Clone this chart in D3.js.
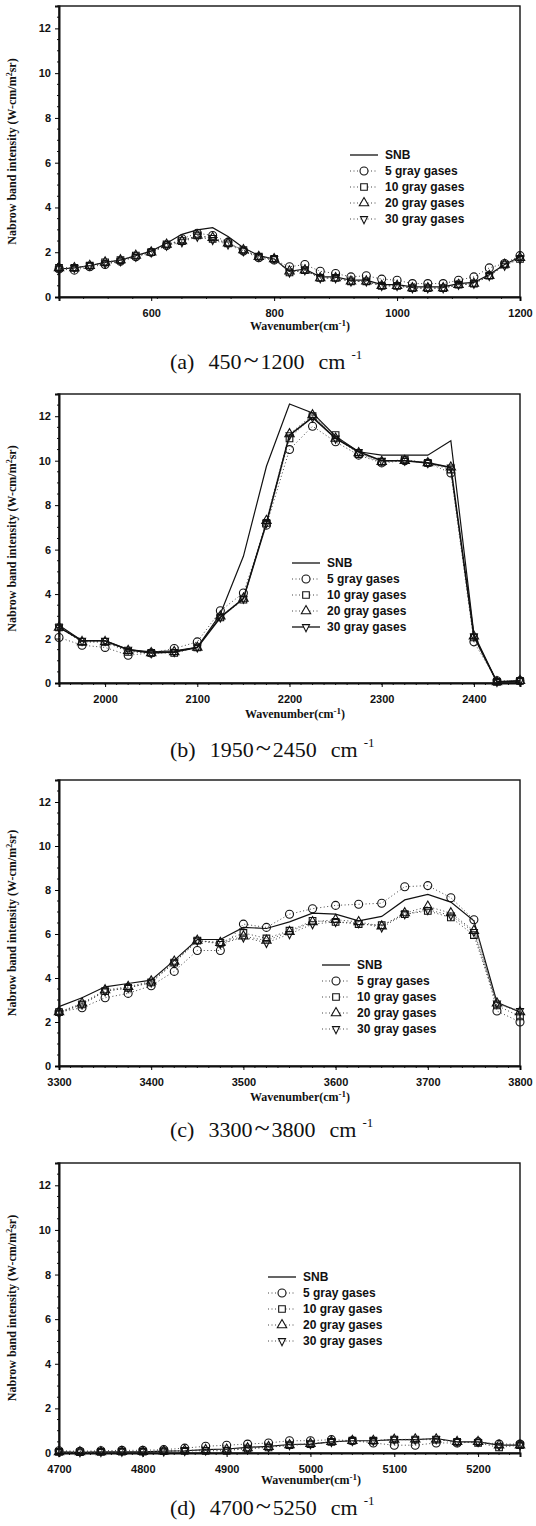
<!DOCTYPE html>
<html>
<head>
<meta charset="utf-8">
<script src="https://cdn.jsdelivr.net/npm/d3@7"></script>
<style>
    body { margin: 0; background: #fff; }
    svg { display: block; }
    .tick-label { font-family: "Liberation Sans", Arial, sans-serif; font-size: 11px; font-weight: bold; fill: #111; }
    .axis-title { font-family: "Liberation Serif", "Times New Roman", serif; font-size: 12px; font-weight: bold; fill: #111; }
    .legend-text { font-family: "Liberation Sans", Arial, sans-serif; font-size: 12px; font-weight: bold; fill: #111; }
    .caption { font-family: "Liberation Serif", "DejaVu Serif", serif; font-size: 22px; fill: #111; }
</style>
</head>
<body>
<svg id="chart" width="536" height="1526"></svg>
<script>
// series names
const seriesNames = ['SNB', '5 gray gases', '10 gray gases', '20 gray gases', '30 gray gases'];

// (a) 450 ~ 1200
const wnA = [450, 475, 500, 525, 550, 575, 600, 625, 650, 675, 700, 725, 750, 775, 800, 825, 850, 875, 900, 925, 950, 975, 1000, 1025, 1050, 1075, 1100, 1125, 1150, 1175, 1200];
const snbA = [1.25, 1.3, 1.4, 1.55, 1.65, 1.85, 2.05, 2.4, 2.8, 3.0, 3.1, 2.7, 2.2, 1.85, 1.7, 1.15, 1.25, 0.9, 0.9, 0.75, 0.75, 0.55, 0.55, 0.45, 0.45, 0.45, 0.6, 0.65, 1.0, 1.45, 1.8];
const g5A = [1.25, 1.2, 1.35, 1.45, 1.6, 1.8, 2.0, 2.3, 2.6, 2.85, 2.75, 2.45, 2.05, 1.75, 1.65, 1.35, 1.45, 1.15, 1.05, 0.9, 0.95, 0.8, 0.75, 0.6, 0.6, 0.6, 0.75, 0.9, 1.3, 1.5, 1.85];
const g10A = [1.3, 1.3, 1.4, 1.55, 1.65, 1.85, 2.0, 2.35, 2.5, 2.75, 2.6, 2.4, 2.1, 1.8, 1.7, 1.1, 1.2, 0.85, 0.85, 0.7, 0.7, 0.5, 0.5, 0.4, 0.4, 0.4, 0.55, 0.6, 0.95, 1.45, 1.7];
const g20A = [1.3, 1.3, 1.4, 1.55, 1.65, 1.85, 2.0, 2.35, 2.5, 2.75, 2.65, 2.4, 2.1, 1.8, 1.7, 1.15, 1.2, 0.85, 0.85, 0.7, 0.7, 0.5, 0.5, 0.4, 0.4, 0.4, 0.55, 0.6, 0.95, 1.45, 1.75];
const g30A = [1.25, 1.3, 1.4, 1.5, 1.6, 1.8, 2.0, 2.3, 2.45, 2.7, 2.55, 2.35, 2.05, 1.8, 1.7, 1.1, 1.2, 0.85, 0.85, 0.7, 0.7, 0.5, 0.5, 0.4, 0.4, 0.4, 0.55, 0.6, 0.95, 1.4, 1.7];
const xTicksA = [600, 800, 1000, 1200];

// (b) 1950 ~ 2450
const wnB = [1950, 1975, 2000, 2025, 2050, 2075, 2100, 2125, 2150, 2175, 2200, 2225, 2250, 2275, 2300, 2325, 2350, 2375, 2400, 2425, 2450];
const snbB = [2.6, 1.9, 1.9, 1.5, 1.4, 1.45, 1.6, 3.1, 5.7, 9.75, 12.55, 12.15, 11.1, 10.4, 10.25, 10.25, 10.25, 10.9, 2.2, 0.05, 0.05];
const g5B = [2.05, 1.7, 1.6, 1.25, 1.35, 1.55, 1.85, 3.25, 4.05, 7.1, 10.5, 11.55, 10.85, 10.25, 9.9, 10.0, 9.9, 9.45, 1.85, 0.1, 0.1];
const g10B = [2.5, 1.85, 1.85, 1.4, 1.35, 1.35, 1.6, 2.95, 3.75, 7.2, 11.0, 12.0, 11.15, 10.3, 9.95, 10.05, 9.9, 9.6, 2.05, 0.05, 0.1];
const g20B = [2.5, 1.85, 1.85, 1.45, 1.35, 1.4, 1.6, 3.0, 3.8, 7.3, 11.2, 12.05, 11.0, 10.35, 9.95, 10.0, 9.9, 9.7, 2.1, 0.05, 0.1];
const g30B = [2.5, 1.9, 1.9, 1.5, 1.35, 1.4, 1.6, 2.95, 3.8, 7.2, 11.15, 11.95, 11.0, 10.4, 10.0, 10.0, 9.9, 9.7, 2.1, 0.05, 0.1];
const xTicksB = [2000, 2100, 2200, 2300, 2400];

// (c) 3300 ~ 3800
const wnC = [3300, 3325, 3350, 3375, 3400, 3425, 3450, 3475, 3500, 3525, 3550, 3575, 3600, 3625, 3650, 3675, 3700, 3725, 3750, 3775, 3800];
const snbC = [2.7, 3.1, 3.6, 3.75, 3.9, 4.8, 5.75, 5.75, 6.3, 6.25, 6.55, 6.95, 6.9, 6.6, 6.8, 7.55, 7.8, 7.45, 6.6, 2.9, 2.45];
const g5C = [2.45, 2.65, 3.1, 3.3, 3.65, 4.3, 5.25, 5.25, 6.45, 6.3, 6.9, 7.15, 7.3, 7.35, 7.4, 8.15, 8.2, 7.65, 6.65, 2.5, 2.0];
const g10C = [2.45, 2.8, 3.4, 3.55, 3.8, 4.7, 5.7, 5.6, 6.05, 5.8, 6.15, 6.6, 6.55, 6.45, 6.4, 6.9, 7.05, 6.75, 5.95, 2.75, 2.25];
const g20C = [2.45, 2.85, 3.45, 3.6, 3.85, 4.75, 5.7, 5.6, 5.9, 5.7, 6.1, 6.55, 6.65, 6.55, 6.35, 6.95, 7.25, 6.95, 6.15, 2.85, 2.45];
const g30C = [2.4, 2.8, 3.4, 3.55, 3.8, 4.7, 5.7, 5.55, 5.85, 5.6, 6.0, 6.45, 6.55, 6.5, 6.3, 6.9, 7.1, 6.85, 6.1, 2.85, 2.5];
const xTicksC = [3300, 3400, 3500, 3600, 3700, 3800];

// (d) 4700 ~ 5250
const wnD = [4700, 4725, 4750, 4775, 4800, 4825, 4850, 4875, 4900, 4925, 4950, 4975, 5000, 5025, 5050, 5075, 5100, 5125, 5150, 5175, 5200, 5225, 5250];
const snbD = [0.05, 0.03, 0.05, 0.05, 0.05, 0.08, 0.1, 0.15, 0.18, 0.25, 0.3, 0.38, 0.4, 0.5, 0.55, 0.55, 0.6, 0.6, 0.65, 0.5, 0.5, 0.35, 0.35];
const g5D = [0.1, 0.08, 0.1, 0.12, 0.12, 0.15, 0.22, 0.3, 0.35, 0.4, 0.45, 0.55, 0.55, 0.6, 0.55, 0.45, 0.35, 0.35, 0.45, 0.45, 0.5, 0.4, 0.4];
const g10D = [0.05, 0.04, 0.05, 0.06, 0.06, 0.08, 0.1, 0.1, 0.1, 0.2, 0.25, 0.35, 0.4, 0.5, 0.55, 0.55, 0.6, 0.6, 0.6, 0.5, 0.45, 0.25, 0.35];
const g20D = [0.05, 0.04, 0.05, 0.06, 0.06, 0.08, 0.12, 0.14, 0.16, 0.22, 0.28, 0.36, 0.42, 0.5, 0.55, 0.55, 0.6, 0.62, 0.62, 0.5, 0.5, 0.35, 0.35];
const g30D = [0.05, 0.04, 0.05, 0.06, 0.06, 0.08, 0.1, 0.12, 0.15, 0.2, 0.26, 0.35, 0.4, 0.5, 0.55, 0.55, 0.6, 0.6, 0.62, 0.5, 0.5, 0.33, 0.35];
const xTicksD = [4700, 4800, 4900, 5000, 5100, 5200];

const yTicks = [0, 2, 4, 6, 8, 10, 12];

const LEFT = 59;
const RIGHT = 520;

const panels = [
    { tag: '(a)', range: ['450', '1200'], wn: wnA, series: [snbA, g5A, g10A, g20A, g30A], xTicks: xTicksA, minorStep: 40,
      top: 6, bottom: 297, legend: [350, 155], xTitle: [300, 330], caption: 369, solid30: false },
    { tag: '(b)', range: ['1950', '2450'], wn: wnB, series: [snbB, g5B, g10B, g20B, g30B], xTicks: xTicksB, minorStep: 12.5,
      top: 394, bottom: 683, legend: [292, 563], xTitle: [295, 718], caption: 757, solid30: true },
    { tag: '(c)', range: ['3300', '3800'], wn: wnC, series: [snbC, g5C, g10C, g20C, g30C], xTicks: xTicksC, minorStep: 12.5,
      top: 780, bottom: 1066, legend: [322, 965], xTitle: [300, 1101], caption: 1137, solid30: false },
    { tag: '(d)', range: ['4700', '5250'], wn: wnD, series: [snbD, g5D, g10D, g20D, g30D], xTicks: xTicksD, minorStep: 12.5,
      top: 1163, bottom: 1453, legend: [268, 1277], xTitle: [311, 1484], caption: 1515, solid30: false }
];

const triDown = {
    draw: (ctx, size) => {
        const h = Math.sqrt(size * 1.3);
        ctx.moveTo(-h / 2, -h / 3);
        ctx.lineTo(h / 2, -h / 3);
        ctx.lineTo(0, h * 2 / 3);
        ctx.closePath();
    }
};
const symbols = [null, d3.symbolCircle, d3.symbolSquare, d3.symbolTriangle, triDown];
const symbolSizes = [0, 50, 44, 38, 38];

const svg = d3.select('#chart');

drawPanel = (p) => {
    const g = svg.append('g');
    const x = d3.scaleLinear().domain([p.wn[0], p.wn[p.wn.length - 1]]).range([LEFT, RIGHT]);
    const y = d3.scaleLinear().domain([0, 13]).range([p.bottom, p.top]);

    // frame
    g.append('rect')
        .attr('x', LEFT).attr('y', p.top)
        .attr('width', RIGHT - LEFT).attr('height', p.bottom - p.top)
        .attr('fill', 'none').attr('stroke', '#111').attr('stroke-width', 1.4);

    // y axis
    const yAxis = d3.axisLeft(y).tickValues(yTicks).tickSize(4).tickPadding(4);
    const ya = g.append('g').attr('transform', `translate(${LEFT},0)`).call(yAxis);
    ya.select('.domain').attr('stroke-width', 2).attr('stroke', '#111');
    ya.selectAll('.tick text').attr('class', 'tick-label').attr('fill', null);
    const yMinor = d3.range(0, 13.01, 0.5).filter(v => v % 2 !== 0);
    g.append('g').selectAll('line').data(yMinor).enter().append('line')
        .attr('x1', LEFT - 2).attr('x2', LEFT)
        .attr('y1', d => y(d)).attr('y2', d => y(d))
        .attr('stroke', '#111');

    // x axis
    const xAxis = d3.axisBottom(x).tickValues(p.xTicks).tickSize(4).tickPadding(8).tickFormat(d3.format('d'));
    const xa = g.append('g').attr('transform', `translate(0,${p.bottom})`).call(xAxis);
    xa.select('.domain').attr('stroke-width', 2).attr('stroke', '#111');
    xa.selectAll('.tick text').attr('class', 'tick-label').attr('fill', null);
    const xMinor = d3.range(x.domain()[0], x.domain()[1], p.minorStep);
    g.append('g').selectAll('line').data(xMinor).enter().append('line')
        .attr('x1', d => x(d)).attr('x2', d => x(d))
        .attr('y1', p.bottom).attr('y2', p.bottom + 2)
        .attr('stroke', '#111');

    // y title
    const yt = g.append('text')
        .attr('class', 'axis-title')
        .attr('text-anchor', 'middle')
        .attr('transform', `translate(16,${(p.top + p.bottom) / 2}) rotate(-90)`);
    yt.append('tspan').text('Nabrow band intensity (W-cm/m');
    yt.append('tspan').attr('dy', -4).attr('font-size', 8).text('2');
    yt.append('tspan').attr('dy', 4).text('sr)');

    // x title
    const xt = g.append('text')
        .attr('class', 'axis-title')
        .attr('text-anchor', 'middle')
        .attr('x', p.xTitle[0]).attr('y', p.xTitle[1]);
    xt.append('tspan').text('Wavenumber(cm');
    xt.append('tspan').attr('dy', -4).attr('font-size', 9).text('-1');
    xt.append('tspan').attr('dy', 4).text(')');

    // series
    p.series.forEach((vals, si) => {
        const pts = p.wn.map((w, i) => [w, vals[i]]);
        const line = d3.line().x(d => x(d[0])).y(d => y(d[1]));
        const solid = si === 0 || (si === 4 && p.solid30);
        g.append('path')
            .attr('d', line(pts))
            .attr('fill', 'none')
            .attr('stroke', solid ? '#111' : '#444')
            .attr('stroke-width', solid ? (si === 0 ? 1.2 : 1.6) : 1)
            .attr('stroke-dasharray', solid ? null : '1,2.5');
        if (si > 0) {
            const sym = d3.symbol().type(symbols[si]).size(symbolSizes[si]);
            g.append('g').selectAll('path').data(pts).enter().append('path')
                .attr('d', sym)
                .attr('transform', d => `translate(${x(d[0])},${y(d[1])})`)
                .attr('fill', 'none')
                .attr('stroke', '#111')
                .attr('stroke-width', 1.1);
        }
    });

    // legend
    const [lx, ly] = p.legend;
    seriesNames.forEach((name, si) => {
        const ry = ly + si * 16;
        const solid = si === 0 || (si === 4 && p.solid30);
        g.append('line')
            .attr('x1', lx).attr('x2', lx + 28)
            .attr('y1', ry).attr('y2', ry)
            .attr('stroke', solid ? '#111' : '#444')
            .attr('stroke-width', solid ? 1.3 : 1)
            .attr('stroke-dasharray', solid ? null : '1,2.5');
        if (si > 0) {
            g.append('path')
                .attr('d', d3.symbol().type(symbols[si]).size(symbolSizes[si]))
                .attr('transform', `translate(${lx + 14},${ry})`)
                .attr('fill', '#fff')
                .attr('stroke', '#111')
                .attr('stroke-width', 1.1);
        }
        g.append('text')
            .attr('class', 'legend-text')
            .attr('x', lx + 35).attr('y', ry + 4)
            .text(name);
    });

    // caption
    const cap = g.append('text')
        .attr('class', 'caption')
        .attr('x', 170).attr('y', p.caption);
    cap.append('tspan').text(p.tag);
    cap.append('tspan').attr('dx', 14).text(p.range[0]);
    cap.append('tspan').attr('dx', 2).attr('font-size', 28).text('~');
    cap.append('tspan').attr('dx', 2).text(p.range[1]);
    cap.append('tspan').attr('dx', 14).text('cm');
    cap.append('tspan').attr('dx', 6).attr('dy', -10).attr('font-size', 13).text('-1');
};

panels.forEach(p => drawPanel(p));
</script>
</body>
</html>
